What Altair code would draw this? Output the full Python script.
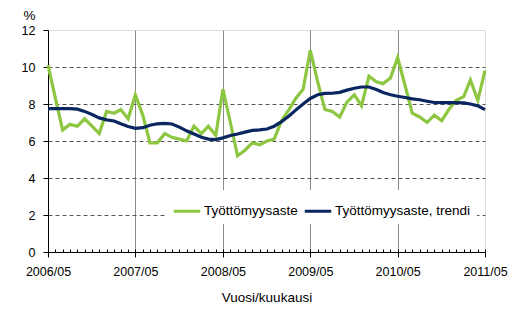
import altair as alt
import pandas as pd

months = pd.date_range("2006-05-01", periods=61, freq="MS")
month_str = months.strftime("%Y-%m-%d").tolist()

rate = [10.1, 8.3, 6.6, 6.9, 6.8, 7.2, 6.8, 6.4, 7.6, 7.5, 7.7, 7.2,
        8.5, 7.4, 5.9, 5.9, 6.4, 6.2, 6.1, 6.0, 6.8, 6.4, 6.8, 6.3,
        8.8, 7.0, 5.2, 5.5, 5.9, 5.8, 6.0, 6.1, 7.1, 7.7, 8.3, 8.8,
        10.9, 9.2, 7.7, 7.6, 7.3, 8.1, 8.5, 7.9, 9.5, 9.2, 9.1, 9.4,
        10.5, 9.0, 7.5, 7.3, 7.0, 7.4, 7.1, 7.7, 8.2, 8.4, 9.3, 8.2,
        9.8]
trend = [7.75, 7.75, 7.75, 7.75, 7.72, 7.6, 7.43, 7.25, 7.14, 7.08, 6.93, 6.78,
         6.68, 6.72, 6.85, 6.93, 6.95, 6.92, 6.75, 6.55, 6.38, 6.2, 6.1, 6.08,
         6.17, 6.3, 6.38, 6.48, 6.57, 6.6, 6.65, 6.8, 7.05, 7.35, 7.67, 8.0,
         8.3, 8.5, 8.57, 8.58, 8.63, 8.75, 8.85, 8.92, 8.92, 8.78, 8.62, 8.5,
         8.42, 8.35, 8.28, 8.23, 8.15, 8.08, 8.07, 8.07, 8.07, 8.06, 8.0, 7.9,
         7.7]
series_names = ["Työttömyysaste", "Työttömyysaste, trendi"]
series_colors = ["#8DC641", "#0A2661"]
year_ticks = [2006, 2007, 2008, 2009, 2010, 2011]
y_ticks = [0, 2, 4, 6, 8, 10, 12]

df = pd.DataFrame({
    "month": month_str * 2,
    "value": rate + trend,
    "series": [series_names[0]] * len(rate) + [series_names[1]] * len(trend),
})

FONT = "Liberation Sans"
W, H = 437, 222

x_main = alt.X(
    "month:T",
    axis=alt.Axis(
        values=[alt.DateTime(year=y, month=5, date=1) for y in year_ticks],
        format="%Y/%m",
        title="Vuosi/kuukausi",
        labelFont=FONT, labelFontSize=12.5, labelColor="black",
        labelFlush=False, labelOverlap=False, labelPadding=8,
        tickSize=5, tickColor="black", domainColor="black",
        grid=True, gridColor="#8a8a8a", gridWidth=1,
        gridOpacity=alt.condition("year(datum.value) > 2006 && year(datum.value) < 2011",
                                  alt.value(1), alt.value(0)),
        titleFont=FONT, titleFontSize=13.5, titleFontWeight="normal",
        titleColor="black", titlePadding=13,
    ),
)

y_axis = alt.Axis(
    values=y_ticks,
    title="%",
    titleAngle=0, titleX=-19, titleY=-15, titleAlign="center",
    titleBaseline="middle", titleFont=FONT, titleFontSize=13.5,
    titleFontWeight="normal", titleColor="black",
    labelFont=FONT, labelFontSize=12.5, labelColor="black", labelPadding=8,
    labelOverlap=False,
    tickSize=5, tickColor="black", domainColor="black",
    grid=True, gridColor="#555555", gridDash=[4, 3],
    gridOpacity=alt.condition("datum.value > 0 && datum.value < 12",
                              alt.value(1), alt.value(0)),
)
y_scale = alt.Scale(domain=[0, 12], nice=False)

lines = alt.Chart(df).mark_line(strokeWidth=3.2, interpolate="linear").encode(
    x=x_main,
    y=alt.Y("value:Q", scale=y_scale, axis=y_axis),
    color=alt.Color(
        "series:N",
        scale=alt.Scale(domain=series_names, range=series_colors),
        legend=alt.Legend(
            orient="none", legendX=118, legendY=160, direction="horizontal",
            title=None, fillColor="white", padding=6,
            labelFont=FONT, labelFontSize=13.5, labelColor="black",
            symbolType="stroke", symbolSize=700, symbolStrokeWidth=3,
            columnPadding=0, labelOffset=2,
        ),
    ),
)

minor = alt.Chart(df).mark_line(opacity=0).encode(
    x=alt.X(
        "month:T",
        axis=alt.Axis(
            orient="top", offset=-H,
            values=[alt.DateTime(year=d.year, month=d.month, date=1) for d in months],
            labels=False, domain=False, grid=False, ticks=True,
            tickSize=3, tickColor="black", title=None,
        ),
    ),
    y=alt.Y("value:Q", scale=y_scale, axis=y_axis),
)

chart = alt.layer(lines, minor).resolve_axis(x="independent").properties(
    width=W, height=H,
    autosize=alt.AutoSizeParams(type="none"),
    padding={"left": 48, "top": 30, "right": 34, "bottom": 60},
).configure_view(stroke="black", strokeWidth=1).configure(background="white")

chart.save("out.html", embed_options={"renderer": "svg", "actions": False})
